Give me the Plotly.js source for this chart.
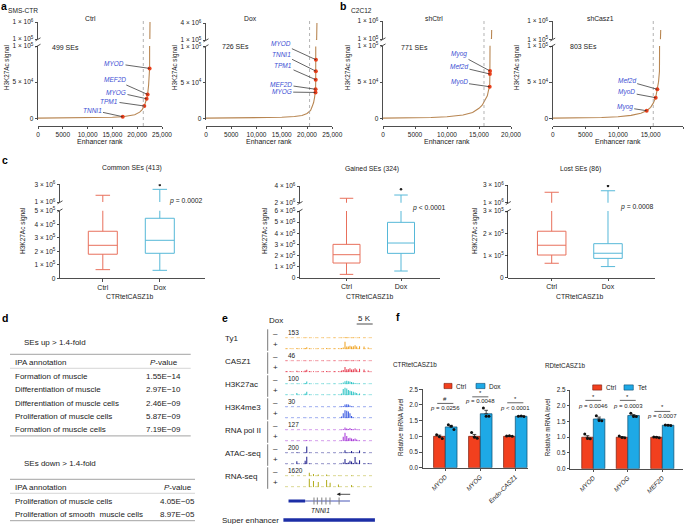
<!DOCTYPE html>
<html><head><meta charset="utf-8">
<script src="https://cdn.plot.ly/plotly-3.0.1.min.js"></script>
<style>html,body{margin:0;padding:0;background:#fff;}#chart{width:689px;height:524px;}</style>
</head><body><div id="chart"></div><script>
// ================= DATA =================
// Panels a, b: super-enhancer ranking curves
const rankConditions = ['Ctrl','Dox','shCtrl','shCasz1'];
const seCounts = ['499 SEs','726 SEs','771 SEs','803 SEs'];
const seCutoffRank = [21230, 20500, 15780, 15400];

const ctrlRank   = [0,2500,5000,7500,10000,12500,15000,17080,18500,19500,20500,21000,21430,21700,21900,22100,22300,22500,22550,22580];
const ctrlSignal = [200,300,450,600,800,1000,1400,2200,3500,5000,8500,12000,17000,22000,27000,33000,46000,69000,100000,1000000];
const ctrlGenes = ['MYOD','MEF2D','MYOG','TPM1','TNNI1'];
const ctrlGeneRank = [22500,22100,21900,21430,17080];
const ctrlGeneSignal = [69000,33000,27000,17000,2200];

const doxRank   = [0,2500,5000,7500,10000,12500,15000,17500,19000,20000,20700,21000,21300,21500,21680,21690,21720,21740,21760,21900,21960];
const doxSignal = [200,300,400,500,700,1000,1400,2500,4000,6800,11000,16000,22000,29600,36000,40500,53800,65700,81600,100000,4000000];
const doxGenes = ['MYOD','TNNI1','TPM1','MEF2D','MYOG'];
const doxGeneRank = [21760,21740,21720,21690,21680];
const doxGeneSignal = [81600,65700,53800,40500,36000];

const shCtrlRank   = [0,2500,5000,7500,10000,12500,14000,15000,15500,16000,16300,16500,16670,16700,16720,16850,16950,16980];
const shCtrlSignal = [200,400,700,1200,2200,4500,8000,13800,18000,25200,31000,39000,43500,61000,65200,85000,100000,550000];
const shCtrlGenes = ['Myog','Mef2d','MyoD'];
const shCtrlGeneRank = [16720,16700,16670];
const shCtrlGeneSignal = [65200,61000,43500];

const shCasz1Rank   = [0,2500,5000,7500,10000,12000,13500,14390,15000,15400,15770,16020,16200,16350,16450,16500,16540];
const shCasz1Signal = [200,400,700,1200,2200,4000,7000,10500,15200,21000,28500,40100,50000,65000,85000,100000,560000];
const shCasz1Genes = ['Mef2d','MyoD','Myog'];
const shCasz1GeneRank = [16020,15770,14390];
const shCasz1GeneSignal = [40100,28500,10500];

const rankTicks25 = [0,5000,10000,15000,20000,25000];
const rankTickText25 = ['0','5000','10,000','15,000','20,000','25,000'];
const rankTicks20 = [0,5000,10000,15000,20000];
const rankTickText20 = ['0','5000','10,000','15,000','20,000'];

// Panel c: box plot statistics [Ctrl, Dox]
const boxGroups = ['Ctrl','Dox'];
const commonQ1 = [178000,185000], commonMedian = [244000,281000], commonQ3 = [348000,444000];
const commonLowerFence = [64000,59000], commonUpperFence = [1760000,2430000], commonOutlier = [2930000];
const gainedQ1 = [132000,219000], gainedMedian = [207000,312000], gainedQ3 = [300000,498000];
const gainedLowerFence = [30000,60000], gainedUpperFence = [2530000,2920000], gainedOutlier = [3600000];
const lostQ1 = [102000,87000], lostMedian = [146000,110000], lostQ3 = [209000,153000];
const lostLowerFence = [65000,50000], lostUpperFence = [2180000,2350000], lostOutlier = [2900000];

// Panel d: IPA tables
const upAnnotations = ['Formation of muscle','Differentiation of muscle','Differentiation of muscle cells','Proliferation of muscle cells','Formation of muscle cells'];
const upPvalues = ['1.55E\u221214','2.97E\u221210','2.46E\u221209','5.87E\u221209','7.19E\u221209'];
const downAnnotations = ['Proliferation of muscle cells','Proliferation of smooth  muscle cells'];
const downPvalues = ['4.05E\u221205','8.97E\u221205'];

// Panel e: genome tracks (relative signal at positions in kb)
const trackNames = ['Ty1','CASZ1','H3K27ac','H3K4me3','RNA pol II','ATAC-seq','RNA-seq'];
const trackScale = ['153','46','100','30','127','200','1620'];
const trackPosKb = [0.5,1.6,3.7,5.2,6.3,6.8,7.6,8.9,10.4,12.0,13.0,14.1,15.5,16.7,17.7,18.2,18.75,19.3,19.8,20.3,20.8,21.35,21.9,22.4,23.3,24.7,26.0];
const ty1Minus   = [.06,.06,.06,.06,.07,.08,.06,.06,.06,.06,.06,.06,.06,.06,.07,.08,.12,.08,.08,.08,.07,.08,.1,.07,.08,.07,.06];
const ty1Plus    = [.1,.12,.15,.12,.15,.22,.12,.1,.12,.1,.15,.12,.1,.12,.15,.2,.85,.3,.3,.4,.3,.35,.45,.3,.35,.3,.2];
const casz1Minus = [.06,.06,.06,.06,.06,.07,.06,.06,.06,.06,.06,.06,.06,.06,.07,.08,.12,.08,.08,.08,.07,.08,.08,.07,.08,.07,.06];
const casz1Plus  = [.12,.15,.18,.15,.2,.28,.15,.12,.12,.12,.15,.12,.12,.12,.2,.25,.6,.35,.35,.45,.3,.35,.45,.3,.4,.3,.2];
const k27Minus   = [.05,.05,.1,.05,.15,.3,.08,.05,.05,.05,.05,.05,.05,.05,.1,.2,.35,.4,.35,.3,.25,.2,.15,.1,.08,.05,.05];
const k27Plus    = [.05,.05,.25,.1,.2,.4,.1,.05,.05,.05,.05,.05,.05,.08,.2,.7,.85,.75,.6,.5,.45,.4,.3,.25,.2,.1,.05];
const k4Minus    = [.03,.03,.03,.03,.03,.03,.03,.03,.03,.03,.03,.03,.03,.03,.08,.15,.3,.35,.3,.2,.1,.05,.03,.03,.03,.03,.03];
const k4Plus     = [.03,.03,.03,.03,.03,.05,.03,.03,.03,.03,.03,.03,.03,.03,.2,.55,.9,.85,.75,.55,.25,.1,.05,.03,.03,.03,.03];
const pol2Minus  = [.04,.04,.04,.04,.04,.06,.04,.04,.04,.04,.04,.04,.04,.04,.06,.15,.3,.2,.15,.25,.15,.1,.2,.1,.06,.04,.04];
const pol2Plus   = [.04,.04,.06,.04,.06,.15,.05,.04,.04,.04,.04,.04,.04,.04,.1,.5,.95,.6,.35,.4,.3,.25,.3,.2,.1,.05,.04];
const atacMinus  = [.04,.04,.12,.04,.1,.75,.06,.04,.04,.04,.04,.04,.04,.04,.06,.1,.35,.1,.08,.15,.25,.1,.08,.1,.3,.08,.04];
const atacPlus   = [.04,.04,.35,.06,.4,.85,.1,.04,.04,.04,.04,.04,.04,.04,.06,.2,.6,.15,.2,.4,.3,.15,.8,.2,.45,.1,.15];
const rnaMinus   = [0,0,0,0,0,0,.4,.25,.2,0,.2,0,0,.1,0,0,0,0,0,0,.1,0,0,0,0,0,0];
const rnaPlus    = [0,0,0,0,0,0,.95,.7,.6,0,.8,.5,0,.3,0,0,0,0,0,0,.25,0,0,0,0,0,0];
const genomeWindowKb = [0, 27.5];
const geneThickKb = [1.1, 6.3];
const geneBodyKb = [6.3, 20.3];
const exonKb = [9.06, 10.1, 11.5, 12.8, 14.06, 16.9];
const superEnhancerKb = [-0.5, 28.1];

// Panel f: qPCR bars
const ctrGenes = ['MYOD','MYOG','Endo-CASZ1'];
const ctrCtrlMean = [1.0,1.0,1.0];
const ctrDoxMean = [1.30,1.72,1.64];
const ctrCtrlSem = [0.04,0.06,0.01];
const ctrDoxSem = [0.05,0.11,0.01];
const ctrCtrlReps = [[1.05,0.99,0.93],[1.12,0.97,0.94],[1.01,1.02,1.0]];
const ctrDoxReps = [[1.37,1.32,1.22],[1.90,1.64,1.64],[1.64,1.65,1.63]];
const ctrSigMark = ['#','*','*'];
const ctrPText = ['p = 0.0256','p = 0.0048','p < 0.0001'];
const rdGenes = ['MYOD','MYOG','MEF2D'];
const rdCtrlMean = [1.0,1.0,1.0];
const rdTetMean = [1.58,1.69,1.38];
const rdCtrlSem = [0.05,0.02,0.02];
const rdTetSem = [0.06,0.03,0.01];
const rdCtrlReps = [[1.10,0.96,0.95],[1.04,0.99,0.98],[1.01,1.0,0.98]];
const rdTetReps = [[1.68,1.53,1.52],[1.76,1.66,1.66],[1.39,1.38,1.37]];
const rdSigMark = ['*','*','*'];
const rdPText = ['p = 0.0046','p = 0.0003','p = 0.0007'];

// ================= BUILD =================
const W = 689, H = 524;
const FONT = '"Liberation Sans", Arial, Helvetica, sans-serif';
const INK = '#222222';
const CURVE = '#b88652', DOT = '#e8401c', LBL = '#3e50d4';
const BOXC = ['#e8705c', '#56b8d8'];
const RED = '#f2401e', BLUE = '#1ea9e6';
const AX = {showgrid:false, zeroline:false, showline:true, linecolor:INK, linewidth:0.8,
  ticks:'outside', ticklen:2.5, tickwidth:0.8, tickcolor:INK,
  tickfont:{size:6.5, color:INK, family:FONT}, fixedrange:true};

const layout = {width:W, height:H, margin:{l:0,r:0,t:0,b:0}, showlegend:false,
  paper_bgcolor:'#ffffff', plot_bgcolor:'rgba(0,0,0,0)',
  font:{family:FONT, size:7, color:INK}, barmode:'group', bargap:0.33, bargroupgap:0,
  annotations:[], shapes:[]};
const data = [];
let nx = 0, ny = 0;
function addX(o){ nx++; const s = nx>1 ? String(nx) : ''; layout['xaxis'+s] = Object.assign({}, AX, o); return {id:'x'+s, ax:layout['xaxis'+s]}; }
function addY(o){ ny++; const s = ny>1 ? String(ny) : ''; layout['yaxis'+s] = Object.assign({}, AX, o); return {id:'y'+s, ax:layout['yaxis'+s]}; }
const X = v => v/W, Y = v => 1 - v/H;
function txt(x, y, t, o){ layout.annotations.push(Object.assign({xref:'paper', yref:'paper', x:X(x), y:Y(y), text:t, showarrow:false, xanchor:'center', yanchor:'middle', font:{size:7, color:INK, family:FONT}}, o||{})); }
function seg(x0, y0, x1, y1, o){ layout.shapes.push(Object.assign({type:'line', xref:'paper', yref:'paper', x0:X(x0), y0:Y(y0), x1:X(x1), y1:Y(y1), line:{color:INK, width:0.8}}, o||{})); }
function breakMarks(x, yA, yB){ seg(x-2.5, yA+1.2, x+2.5, yA-1.8); seg(x-2.5, yB+1.8, x+2.5, yB-1.2); }
function sci(v){ if(v===0) return '0'; const e = Math.floor(Math.log10(v)+1e-9); const m = Math.round(v/Math.pow(10,e)); return m+' \u00d7 10<sup>'+e+'</sup>'; }
function f(sz, extra){ return Object.assign({size:sz, color:INK, family:FONT}, extra||{}); }

// ---------- panels a & b ----------
const rankSets = [
  {rank:ctrlRank, sig:ctrlSignal, genes:ctrlGenes, gR:ctrlGeneRank, gS:ctrlGeneSignal},
  {rank:doxRank, sig:doxSignal, genes:doxGenes, gR:doxGeneRank, gS:doxGeneSignal},
  {rank:shCtrlRank, sig:shCtrlSignal, genes:shCtrlGenes, gR:shCtrlGeneRank, gS:shCtrlGeneSignal},
  {rank:shCasz1Rank, sig:shCasz1Signal, genes:shCasz1Genes, gR:shCasz1GeneRank, gS:shCasz1GeneSignal}
];
const rankGeo = [
  {x0:38, x1:162, xmax:25000, zero:118.3, loTop:46, upBot:39, upTop:22, upMax:1e6, cond:[90,19], cnt:[65.8,47.3], ytx:7,
   labels:[[114,63.3],[115,80],[116,92],[109,101],[92,110]]},
  {x0:206, x1:332.3, xmax:25000, zero:118.3, loTop:46.5, upBot:40, upTop:23, upMax:4e6, cond:[250,19], cnt:[235,47], ytx:175,
   labels:[[281,43.7],[282,54.3],[283,65.3],[281,84.3],[281.7,92]]},
  {x0:383, x1:511, xmax:20000, zero:118.3, loTop:45.7, upBot:39, upTop:21, upMax:1e6, cond:[434,19], cnt:[414.5,47.7], ytx:348,
   labels:[[459,54.3],[459,66.7],[459,82.3]]},
  {x0:552.7, x1:683.3, xmax:20000, zero:118.3, loTop:46, upBot:39.3, upTop:21, upMax:1e6, cond:[600.7,19], cnt:[583,47], ytx:517,
   labels:[[626.7,80.7],[626.7,92.3],[624.7,107.3]]}
];
rankGeo.forEach((g, i) => {
  const s = rankSets[i];
  const big = g.xmax === 25000;
  const xa = addX({domain:[X(g.x0), X(g.x1)], range:[0, g.xmax], anchor:'free', position:Y(126),
    tickvals: big ? rankTicks25 : rankTicks20, ticktext: big ? rankTickText25 : rankTickText20});
  const k = (g.zero - g.loTop)/1e5;
  const bot = g.zero + 1.2;
  const yl = addY({domain:[Y(bot), Y(g.loTop)], range:[-1.2/k, 1e5], anchor:xa.id,
    tickvals:[0,5e4,1e5], ticktext:[sci(0), sci(5e4), sci(1e5)]});
  const yh = addY({domain:[Y(g.upBot), Y(g.upTop)], range:[1e5, g.upMax], anchor:xa.id,
    tickvals:[1e5, g.upMax], ticktext:[sci(1e5), sci(g.upMax)]});
  data.push({type:'scatter', mode:'lines', x:s.rank, y:s.sig, xaxis:xa.id, yaxis:yl.id,
    line:{color:CURVE, width:1.1}, hoverinfo:'skip'});
  // upper broken segment: only the part of the curve from the last point below the break
  let st = 0; s.sig.forEach((v, kk) => { if(v < 1e5) st = kk; });
  data.push({type:'scatter', mode:'lines', x:s.rank.slice(st), y:s.sig.slice(st), xaxis:xa.id, yaxis:yh.id,
    line:{color:CURVE, width:1.1}, hoverinfo:'skip'});
  data.push({type:'scatter', mode:'markers', x:s.gR, y:s.gS, xaxis:xa.id, yaxis:yl.id,
    marker:{color:DOT, size:4}, hoverinfo:'skip'});
  s.genes.forEach((gn, j) => {
    const pxp = g.x0 + s.gR[j]/g.xmax*(g.x1-g.x0), pyp = g.zero - s.gS[j]*k;
    layout.annotations.push({xref:xa.id, yref:yl.id, x:s.gR[j], y:s.gS[j], text:'<i>'+gn+'</i>',
      showarrow:true, arrowhead:0, arrowwidth:0.7, arrowcolor:INK, standoff:0,
      ax:g.labels[j][0]-pxp, ay:g.labels[j][1]-pyp, font:f(6.5, {color:LBL})});
  });
  layout.shapes.push({type:'line', xref:xa.id, yref:'paper', x0:seCutoffRank[i], x1:seCutoffRank[i],
    y0:Y(126), y1:Y(20), line:{color:'#a0a0a0', width:0.8, dash:'dot'}});
  breakMarks(g.x0, g.loTop, g.upBot);
  txt(g.cond[0], g.cond[1], rankConditions[i], {font:f(6.8)});
  txt(g.cnt[0], g.cnt[1], seCounts[i], {font:f(7)});
  txt(g.ytx, 68, 'H3K27Ac signal', {textangle:-90, font:f(6.3)});
  txt((g.x0+g.x1)/2, 141, 'Enhancer rank', {font:f(7)});
});
txt(23, 10.5, 'SMS-CTR', {font:f(6.6)});
txt(361, 10.5, 'C2C12', {font:f(6.6)});

// ---------- panel c ----------
const boxSets = [
  {title:'Common SEs (413)', q1:commonQ1, med:commonMedian, q3:commonQ3, lf:commonLowerFence, uf:commonUpperFence, out:commonOutlier, p:'<i>p</i> = 0.0002'},
  {title:'Gained SEs (324)', q1:gainedQ1, med:gainedMedian, q3:gainedQ3, lf:gainedLowerFence, uf:gainedUpperFence, out:gainedOutlier, p:'<i>p</i> < 0.0001'},
  {title:'Lost SEs (86)', q1:lostQ1, med:lostMedian, q3:lostQ3, lf:lostLowerFence, uf:lostUpperFence, out:lostOutlier, p:'<i>p</i> = 0.0008'}
];
const boxGeo = [
  {yx:60, xe:205, c0:102.8, c1:159.8, zero:278.3, loTop:210.7, loMax:5e5, upBot:202, upTop:184.3, upMin:1e6, upMax:3e6, bw:29, title:[131.7,168.3], pxy:[186,201], ytx:23, xt:129.5},
  {yx:300, xe:440, c0:346.5, c1:401, zero:277.7, loTop:211, loMax:6e5, upBot:202.7, upTop:186, upMin:2e6, upMax:4e6, bw:27, title:[372,169], pxy:[429,207.7], ytx:265, xt:369},
  {yx:508.3, xe:655, c0:551.7, c1:608, zero:277.7, loTop:211, loMax:3e5, upBot:202.7, upTop:185, upMin:1e6, upMax:3e6, bw:28.5, title:[580,169], pxy:[636.7,206.7], ytx:475, xt:579}
];
boxGeo.forEach((g, i) => {
  const s = boxSets[i]; const u = g.c1 - g.c0;
  const xa = addX({domain:[X(g.yx), X(g.xe)], range:[(g.yx-g.c0)/u, (g.xe-g.c0)/u],
    tickvals:[0,1], ticktext:boxGroups, tickfont:f(7)});
  const lov = []; for(let v = 0; v <= g.loMax + 1; v += 1e5) lov.push(v);
  const yl = addY({domain:[Y(g.zero), Y(g.loTop)], range:[0, g.loMax], anchor:xa.id, tickvals:lov, ticktext:lov.map(sci)});
  xa.ax.anchor = yl.id;
  const yh = addY({domain:[Y(g.upBot), Y(g.upTop)], range:[g.upMin, g.upMax], anchor:xa.id,
    tickvals:[g.upMin, g.upMax], ticktext:[sci(g.upMin), sci(g.upMax)]});
  [0,1].forEach(j => {
    [yl, yh].forEach(ya => data.push({type:'box', x:[j], q1:[s.q1[j]], median:[s.med[j]], q3:[s.q3[j]],
      lowerfence:[s.lf[j]], upperfence:[s.uf[j]], xaxis:xa.id, yaxis:ya.id, width:g.bw/u,
      fillcolor:'rgba(255,255,255,0)', line:{color:BOXC[j], width:1}, whiskerwidth:0.5,
      boxpoints:false, hoverinfo:'skip'}));
  });
  data.push({type:'scatter', mode:'markers', x:[1], y:s.out, xaxis:xa.id, yaxis:yh.id,
    marker:{color:INK, size:2.5}, hoverinfo:'skip'});
  breakMarks(g.yx, g.loTop, g.upBot);
  txt(g.title[0], g.title[1], s.title, {font:f(6.8)});
  txt(g.pxy[0], g.pxy[1], s.p, {font:f(6.8)});
  txt(g.ytx, 231, 'H3K27Ac signal', {textangle:-90, font:f(6.5)});
  txt(g.xt, 296, 'CTRtetCASZ1b', {font:f(6.8)});
});

// ---------- panel d ----------
function table(yTitle, title, topY, xR, pvx, rows, vals){
  txt(21.7, yTitle, title, {xanchor:'left', font:f(8)});
  seg(10, topY, xR, topY, {line:{color:'#8a8a8a', width:0.8}});
  txt(13.3, topY+8, 'IPA annotation', {xanchor:'left', font:f(8)});
  txt(pvx, topY+8, '<i>P</i>-value', {xanchor:'right', font:f(8)});
  seg(10, topY+14, xR, topY+14, {line:{color:'#c4c4c4', width:0.7}});
  rows.forEach((r, i) => {
    txt(13.3, topY+22+13.4*i, r, {xanchor:'left', font:f(8)});
    txt(pvx+3, topY+22+13.4*i, vals[i], {xanchor:'right', font:f(8)});
  });
  const bY = topY + 22 + 13.4*(rows.length-1) + 6;
  seg(10, bY, xR, bY, {line:{color:'#8a8a8a', width:0.8}});
}
table(342.3, 'SEs up > 1.4-fold', 354.3, 190.7, 180, upAnnotations, upPvalues);
table(463.3, 'SEs down > 1.4-fold', 479.3, 195, 194, downAnnotations, downPvalues);

// ---------- panel e ----------
const trackColors = ['#f0a21e','#e6394d','#2fc4c6','#3354e0','#a636d8','#1f1f8c','#b3ae1e'];
const trackData = [[ty1Minus,ty1Plus],[casz1Minus,casz1Plus],[k27Minus,k27Plus],[k4Minus,k4Plus],[pol2Minus,pol2Plus],[atacMinus,atacPlus],[rnaMinus,rnaPlus]];
const xe = addX({domain:[X(283), X(375.3)], range:[-0.625, 28.22], visible:false});
trackNames.forEach((nm, i) => {
  const top = 329.3 + 23*i;
  [0,1].forEach(j => {
    const base = top + (j===0 ? 9 : 20);
    const ya = addY({domain:[Y(base), Y(base-9)], range:[0,1], visible:false, anchor:xe.id});
    if(i===0 && j===0) xe.ax.anchor = ya.id;
    data.push({type:'scatter', mode:'lines', x:genomeWindowKb, y:[0.04,0.04], xaxis:xe.id, yaxis:ya.id,
      line:{color:trackColors[i], width:0.7, dash:'dot'}, hoverinfo:'skip'});
    data.push({type:'bar', x:trackPosKb, y:trackData[i][j], width:0.32, xaxis:xe.id, yaxis:ya.id,
      marker:{color:trackColors[i], line:{width:0}}, hoverinfo:'skip'});
  });
  txt(223, top+9, nm, {xanchor:'left', font:f(8)});
  txt(275, top+4, '\u2013', {font:f(8)});
  txt(275, top+15, '+', {font:f(8)});
  txt(285.5, top+3.3, trackScale[i], {xanchor:'left', font:f(6.5)});
  seg(267.7, top, 267.7, top+21.5, {line:{color:'#555555', width:0.8}});
});
const yg = addY({domain:[Y(505), Y(497)], range:[-1,1], visible:false, anchor:xe.id});
const GENE = '#1c2ea6';
data.push({type:'scatter', mode:'lines', x:geneThickKb, y:[0,0], xaxis:xe.id, yaxis:yg.id, line:{color:GENE, width:3}, hoverinfo:'skip'});
data.push({type:'scatter', mode:'lines', x:geneBodyKb, y:[0,0], xaxis:xe.id, yaxis:yg.id, line:{color:GENE, width:0.8}, hoverinfo:'skip'});
data.push({type:'scatter', mode:'markers', x:exonKb, y:exonKb.map(() => 0), xaxis:xe.id, yaxis:yg.id,
  marker:{symbol:'line-ns-open', size:5, line:{color:GENE, width:1}}, hoverinfo:'skip'});
const yse = addY({domain:[Y(523), Y(517)], range:[-1,1], visible:false, anchor:xe.id});
data.push({type:'scatter', mode:'lines', x:superEnhancerKb, y:[0,0], xaxis:xe.id, yaxis:yse.id, line:{color:GENE, width:3.5}, hoverinfo:'skip'});
layout.annotations.push({xref:'paper', yref:'paper', x:X(336.7), y:Y(494.3), ax:15, ay:0, text:'', showarrow:true,
  arrowhead:2, arrowsize:0.9, arrowwidth:0.8, arrowcolor:INK, standoff:0});
txt(320, 510.7, '<i>TNNI1</i>', {font:f(6.5)});
txt(281, 520, 'Super enhancer', {xanchor:'right', font:f(8)});
txt(275.5, 320.7, 'Dox', {font:f(8)});
txt(364.7, 318.5, '5 K', {font:f(8)});
seg(356.7, 324, 372.7, 324, {line:{color:INK, width:0.8}});

// ---------- panel f ----------
const barSets = [
  {genes:ctrGenes, cm:ctrCtrlMean, tm:ctrDoxMean, ce:ctrCtrlSem, te:ctrDoxSem, cr:ctrCtrlReps, tr:ctrDoxReps, mark:ctrSigMark, p:ctrPText, trt:'Dox', title:'CTRtetCASZ1b'},
  {genes:rdGenes, cm:rdCtrlMean, tm:rdTetMean, ce:rdCtrlSem, te:rdTetSem, cr:rdCtrlReps, tr:rdTetReps, mark:rdSigMark, p:rdPText, trt:'Tet', title:'RDtetCASZ1b'}
];
const barGeo = [
  {yx:422.7, xe:528.3, c0:445.3, u:35, zero:467.7, top:389.3, title:[415,364.3], ytx:400,
   markY:[2.19,2.39,2.18], lineY:[2.05,2.26,2.07], pY:[1.89,2.13,1.91], leg:{r:[444,452], t1:454, b:[476,485], t2:487.5, y:386}},
  {yx:570, xe:683.3, c0:593.3, u:34.5, zero:468.7, top:390, title:[565,365.7], ytx:547.3,
   markY:[2.28,2.28,1.96], lineY:[2.17,2.17,1.82], pY:[2.0,2.0,1.66], leg:{r:[592.7,601.7], t1:604, b:[624,633.3], t2:635.8, y:387.5}}
];
barGeo.forEach((g, i) => {
  const s = barSets[i];
  const idx = s.genes.map((_, k) => k);
  const xa = addX({domain:[X(g.yx), X(g.xe)], range:[(g.yx-g.c0)/g.u, (g.xe-g.c0)/g.u],
    tickvals:idx, ticktext:s.genes.map(t => '<i>'+t+'</i>'), tickangle:-45, tickfont:f(6.3)});
  const ya = addY({domain:[Y(g.zero), Y(g.top)], range:[0,2.5], anchor:xa.id,
    tickvals:[0,0.5,1,1.5,2,2.5], ticktext:['0.0','0.5','1.0','1.5','2.0','2.5'], tickfont:f(6.3)});
  xa.ax.anchor = ya.id;
  data.push({type:'bar', x:idx, y:s.cm, xaxis:xa.id, yaxis:ya.id,
    marker:{color:RED, line:{color:'#7a1a0a', width:0.7}},
    error_y:{type:'data', array:s.ce, arrayminus:s.ce.map(() => 0), symmetric:false, color:INK, thickness:0.8, width:1.8},
    hoverinfo:'skip'});
  data.push({type:'bar', x:idx, y:s.tm, xaxis:xa.id, yaxis:ya.id,
    marker:{color:BLUE, line:{color:'#0d4c6e', width:0.7}},
    error_y:{type:'data', array:s.te, arrayminus:s.te.map(() => 0), symmetric:false, color:INK, thickness:0.8, width:1.8},
    hoverinfo:'skip'});
  const off = (1 - layout.bargap)/4, jit = [-0.08, 0, 0.08];
  const dx = [], dy = [];
  idx.forEach(k => {
    s.cr[k].forEach((v, r) => { dx.push(k - off + jit[r]); dy.push(v); });
    s.tr[k].forEach((v, r) => { dx.push(k + off + jit[r]); dy.push(v); });
  });
  data.push({type:'scatter', mode:'markers', x:dx, y:dy, xaxis:xa.id, yaxis:ya.id,
    marker:{color:'#111111', size:3}, hoverinfo:'skip'});
  idx.forEach(k => {
    layout.annotations.push({xref:xa.id, yref:ya.id, x:k, y:g.markY[k], text:s.mark[k], showarrow:false, font:f(6)});
    layout.shapes.push({type:'line', xref:xa.id, yref:ya.id, x0:k-0.23, x1:k+0.23, y0:g.lineY[k], y1:g.lineY[k], line:{color:INK, width:0.7}});
    layout.annotations.push({xref:xa.id, yref:ya.id, x:k, y:g.pY[k], text:'<i>p</i>'+s.p[k].slice(1), showarrow:false, font:f(6)});
  });
  txt(g.title[0], g.title[1], s.title, {font:f(6.3)});
  txt(g.ytx, 428, 'Relative mRNA level', {textangle:-90, font:f(6.3)});
  layout.shapes.push({type:'rect', xref:'paper', yref:'paper', x0:X(g.leg.r[0]), x1:X(g.leg.r[1]), y0:Y(g.leg.y+2.6), y1:Y(g.leg.y-2.6),
    fillcolor:RED, line:{color:'#7a1a0a', width:0.6}});
  layout.shapes.push({type:'rect', xref:'paper', yref:'paper', x0:X(g.leg.b[0]), x1:X(g.leg.b[1]), y0:Y(g.leg.y+2.6), y1:Y(g.leg.y-2.6),
    fillcolor:BLUE, line:{color:'#0d4c6e', width:0.6}});
  txt(g.leg.t1, g.leg.y, 'Ctrl', {xanchor:'left', font:f(6.5)});
  txt(g.leg.t2, g.leg.y, s.trt, {xanchor:'left', font:f(6.5)});
});

// ---------- panel letters ----------
[['a',3.5,6],['b',343,6],['c',5,160],['d',5,318],['e',225,318],['f',398,317]].forEach(l =>
  txt(l[1], l[2], '<b>'+l[0]+'</b>', {font:f(10.5, {color:'#000'})}));

Plotly.newPlot('chart', data, layout, {staticPlot:true, displayModeBar:false});
</script></body></html>
